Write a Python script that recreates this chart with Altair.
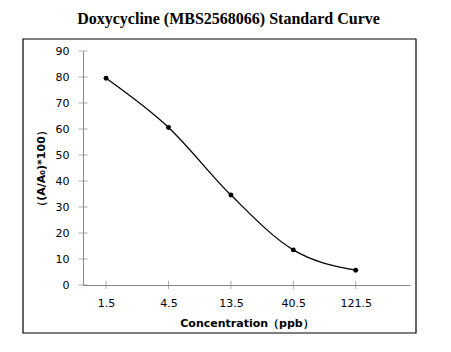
import altair as alt
import pandas as pd

labels = ["1.5", "4.5", "13.5", "40.5", "121.5"]
positions = [0, 1, 2, 3, 4]
values = [79.5, 60.6, 34.6, 13.5, 5.7]
y_ticks = [0, 10, 20, 30, 40, 50, 60, 70, 80, 90]

df = pd.DataFrame({"pos": positions, "label": labels, "value": values})

W, H = 327, 234
AX = "#888888"

xscale = alt.Scale(domain=[-0.37, 4.87], nice=False, zero=False)
yscale = alt.Scale(domain=[0, 90], nice=False)

x = alt.X("pos:Q", scale=xscale,
          axis=alt.Axis(values=positions,
                        labelExpr="['1.5','4.5','13.5','40.5','121.5'][datum.value]",
                        title="Concentration（ppb）",
                        grid=False, ticks=False, labelPadding=12, titlePadding=9,
                        domainColor=AX))
y = alt.Y("value:Q", scale=yscale,
          axis=alt.Axis(values=y_ticks, title="（(A/A₀)*100）",
                        grid=False, ticks=False, labelPadding=14, titlePadding=9,
                        labelOverlap=False, domainColor=AX))

base = alt.Chart(df).encode(x=x, y=y)
line = base.mark_line(interpolate="monotone", color="black", strokeWidth=1.3)
pts = base.mark_point(filled=True, color="black", size=24, opacity=1)

xt = alt.Chart(pd.DataFrame({"pos": positions})).mark_tick(
    color=AX, size=8, thickness=1, clip=False, orient="vertical"
).encode(x=x, y=alt.value(H))

yt = alt.Chart(pd.DataFrame({"value": y_ticks})).mark_tick(
    color=AX, size=9, thickness=1, clip=False, orient="horizontal"
).encode(y=y, x=alt.value(0))

border = alt.Chart(pd.DataFrame({"a": [0]})).mark_rect(
    fill=None, stroke="black", strokeWidth=1.2, clip=False
).encode(x=alt.value(-60), x2=alt.value(333), y=alt.value(-12), y2=alt.value(282))

chart = alt.layer(line, pts, xt, yt, border).properties(
    width=W, height=H,
    padding={"left": 83, "top": 51, "right": 41, "bottom": 67},
    autosize=alt.AutoSizeParams(type="none"),
    title=alt.TitleParams("Doxycycline (MBS2568066) Standard Curve",
                          font="Liberation Serif", fontSize=16, fontWeight="bold",
                          color="black", dx=-18, offset=11),
).configure_view(stroke=None).configure_axis(
    labelFont="DejaVu Sans", labelFontSize=11, labelColor="black",
    titleFont="DejaVu Sans", titleFontSize=11, titleFontWeight="bold", titleColor="black",
)

chart.save("out.html", embed_options={"renderer": "svg", "actions": False})
